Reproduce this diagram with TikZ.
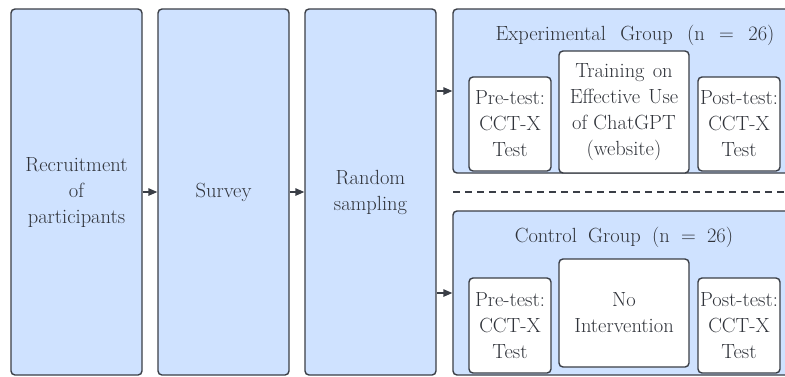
\documentclass[tikz,border=0pt]{standalone}
\usetikzlibrary{arrows.meta}
\definecolor{boxfill}{RGB}{207,226,255}
\definecolor{edge}{RGB}{58,62,70}
\definecolor{txt}{RGB}{48,51,58}
\tikzset{
  bigbox/.style={draw=edge, fill=boxfill, line width=1.4pt, rounded corners=4pt, inner sep=0pt, text=txt},
  innerbox/.style={draw=edge, fill=white, line width=1.4pt, rounded corners=4pt, inner sep=0pt, align=center, text=txt},
  lbl/.style={inner sep=0pt, align=center, text=txt},
  arr/.style={draw=edge, line width=1.4pt, -{Triangle[length=9pt,width=7.5pt]}},
}
\begin{document}
\begin{tikzpicture}[x=1pt,y=-1pt, font=\fontsize{20.5}{26}\selectfont]
\useasboundingbox (0,0) rectangle (785,376);
\clip (0,0) rectangle (785,376);
% main column boxes
\node[bigbox, minimum width=131pt, minimum height=366pt] (b1) at (76.5,192) {};
\node[lbl] at (b1) {Recruitment\\of\\participants};
\node[bigbox, minimum width=131pt, minimum height=366pt] (b2) at (223.5,192) {};
\node[lbl] at (b2) {Survey};
\node[bigbox, minimum width=131pt, minimum height=366pt] (b3) at (370.5,192) {};
\node[lbl] at (b3) {Random\\sampling};
% group boxes
\node[bigbox, minimum width=360pt, minimum height=164pt] (exp) at (633,91) {};
\node[bigbox, minimum width=360pt, minimum height=164pt] (ctrl) at (633,293) {};
\node[lbl, anchor=base] (expt) at (635,40) {Experimental\hspace{0.7em}Group\hspace{0.7em}(n\hspace{0.7em}=\hspace{0.7em}26)};
\node[lbl, anchor=base] (ctrlt) at (624,242) {Control\hspace{0.55em}Group\hspace{0.55em}(n\hspace{0.55em}=\hspace{0.55em}26)};
% dashed separator
\coordinate (d1) at (453,192);
\coordinate (d2) at (785,192);
\draw[edge, line width=1.4pt, dash pattern=on 7pt off 5pt] (d1) -- (d2);
% experimental inner boxes
\node[innerbox, minimum width=82pt, minimum height=94pt] (epre) at (510,124) {Pre-test:\\CCT-X\\Test};
\node[innerbox, minimum width=130pt, minimum height=122pt] (etrain) at (624,112) {Training\hspace{0.4em}on\\Effective\hspace{0.4em}Use\\of ChatGPT\\(website)};
\node[innerbox, minimum width=82pt, minimum height=94pt] (epost) at (739,124) {Post-test:\\CCT-X\\Test};
% control inner boxes
\node[innerbox, minimum width=82pt, minimum height=95pt] (cpre) at (510,325.5) {Pre-test:\\CCT-X\\Test};
\node[innerbox, minimum width=130pt, minimum height=108pt] (cno) at (624,313) {No\\Intervention};
\node[innerbox, minimum width=82pt, minimum height=95pt] (cpost) at (739,325.5) {Post-test:\\CCT-X\\Test};
% arrows
\draw[arr] (b1.east) -- (b2.west);
\draw[arr] (b2.east) -- (b3.west);
\draw[arr] (b3.east |- exp.west) -- (exp.west);
\draw[arr] (b3.east |- ctrl.west) -- (ctrl.west);
\end{tikzpicture}
\end{document}
